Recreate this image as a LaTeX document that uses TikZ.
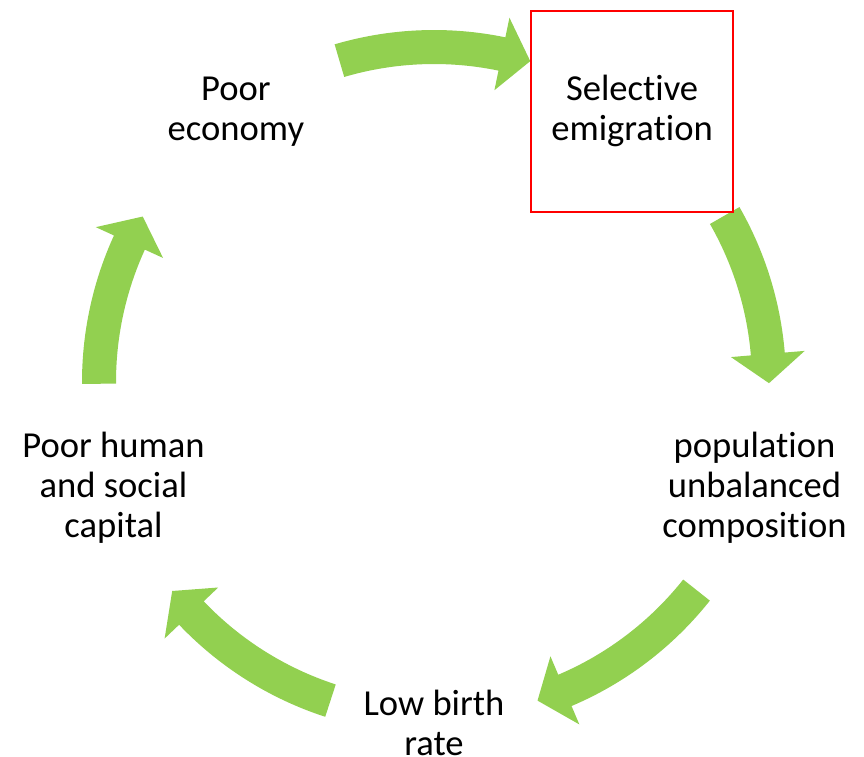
\documentclass[tikz,border=0pt]{standalone}
\usepackage{fontspec}
\setmainfont{Carlito}[Ligatures=NoCommon]

\definecolor{arrowgreen}{HTML}{92D050}

\tikzset{
  steplabel/.style={align=center, inner sep=0pt, yshift=-2pt, font=\fontsize{36.6}{40}\selectfont},
  markbox/.style={draw=red, line width=2pt, minimum width=202pt, minimum height=201pt},
}

% block arrow on the cycle: #1 tail angle, #2 tip angle
\newcommand{\cycarrow}[2]{%
  \fill[arrowgreen] (#1:352) arc[start angle=#1, end angle={#2+5}, radius=352]
    -- ({#2+5}:372) -- (#2:335) -- ({#2+5}:298) -- ({#2+5}:318)
    arc[start angle={#2+5}, end angle=#1, radius=318] -- cycle;}

\begin{document}
\begin{tikzpicture}[x=1pt, y=1pt]
			\useasboundingbox (-434,-374) rectangle (430,382);
			\coordinate (c) at (0,0);
			% arrows
			\cycarrow{106.4}{73.3}
			\cycarrow{29.8}{-0.2}
			\cycarrow{-38.4}{-72}
			\cycarrow{252}{218.6}
			\cycarrow{180.3}{150.4}
			% steps
			\node[steplabel] (econ) at (126:337) {Poor\\economy} ;
			\node[steplabel, markbox] (emig) at (54:337) {Selective\\emigration} ;
			\node[steplabel] (popu) at (342:337) {population\\unbalanced\\composition} ;
			\node[steplabel] (birth) at (0,-339) {Low birth\\rate} ;
			\node[steplabel] (capital) at (198:337) {Poor human\\and social\\capital} ;
		\end{tikzpicture}
\end{document}
